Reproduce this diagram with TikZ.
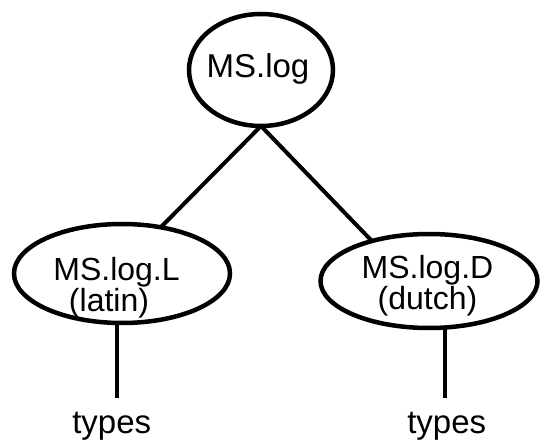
\documentclass[tikz,border=0pt]{standalone}
\usepackage{fontspec}
\setmainfont{Liberation Sans}
\usetikzlibrary{shapes.geometric}
\tikzset{
  oval/.style={draw=black, line width=4.5pt, ellipse, inner sep=0pt, outer sep=0pt},
  lbl/.style={anchor=base, inner sep=0pt, font=\fontsize{33}{33}\selectfont},
  twoline/.style={anchor=center, inner sep=0pt, align=center,
    font=\fontsize{32}{31}\selectfont},
  edge/.style={draw=black, line width=4pt}
}
\begin{document}
\begin{tikzpicture}[x=1pt, y=-1pt]
\useasboundingbox (0,0) rectangle (541,443);
% ovals
\node[oval, minimum width=144pt, minimum height=112pt] (top) at (261,70) {};
\node[oval, minimum width=216pt, minimum height=99pt] (L) at (122,273.5) {};
\node[oval, minimum width=217pt, minimum height=94pt] (D) at (429,281) {};
% texts
\node[lbl] (topt) at (258,78) {MS.log};
\node[twoline] (Lt) at (116.5,287.5) {MS.log.L\\(latin)\hspace*{15pt}};
\node[twoline] (Dt) at (427.5,285.5) {MS.log.D\\(dutch)};
\node[lbl] (Ltypes) at (111.7,434) {types};
\node[lbl] (Dtypes) at (446.7,434) {types};
% free ends
\coordinate (Lend) at (116.7,398);
\coordinate (Dend) at (445,398);
% connectors
\draw[edge] (top.south) -- (L.50);
\draw[edge] (top.south) -- (D.145);
\draw[edge] (L.south -| Lend) -- (Lend);
\draw[edge] (D.south -| Dend) -- (Dend);
\end{tikzpicture}
\end{document}
